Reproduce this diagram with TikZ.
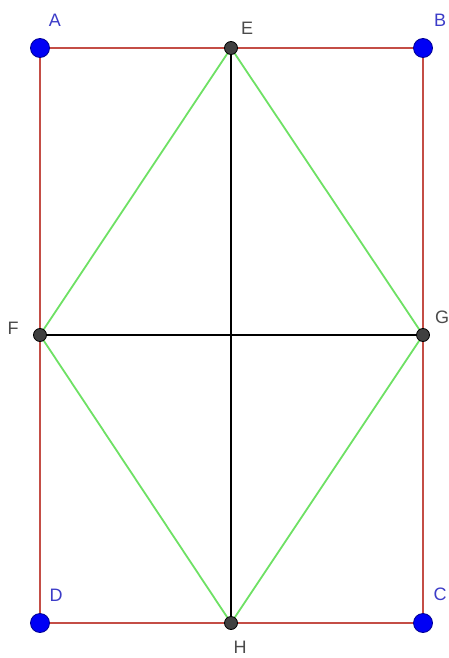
\documentclass[tikz,border=0pt]{standalone}
\usepackage{fontspec}
\setmainfont{Liberation Sans}
\usetikzlibrary{positioning,calc}
\definecolor{edgered}{RGB}{196,78,70}
\definecolor{rhombgreen}{RGB}{110,225,100}
\definecolor{ptblue}{RGB}{0,0,245}
\definecolor{lblblue}{RGB}{60,60,200}
\definecolor{lblgray}{RGB}{75,75,75}

\begin{document}
\begin{tikzpicture}[x=1pt,y=-1pt,
    bigpt/.style={circle, draw=ptblue!60!black, fill=ptblue, line width=0.8pt, minimum size=19pt, inner sep=0pt},
    midpt/.style={circle, draw=black, fill=black!75, line width=0.8pt, minimum size=13pt, inner sep=0pt},
    blbl/.style={text=lblblue, font=\fontsize{18}{18}\selectfont, inner sep=0pt},
    glbl/.style={text=lblgray, font=\fontsize{18}{18}\selectfont, inner sep=0pt}]
    \useasboundingbox[fill=white] (0,0) rectangle (448,658);

    % Corner and mid points
    \coordinate (A) at (40,48);
    \coordinate (B) at (423,48);
    \coordinate (C) at (423,623);
    \coordinate (D) at (40,623);
    \coordinate (E) at (231,48);
    \coordinate (F) at (40,335);
    \coordinate (G) at (423,335);
    \coordinate (H) at (231,623);

    % Rectangle
    \draw[edgered, line width=1.8pt] (A) -- (B) -- (C) -- (D) -- cycle;

    % Rhombus
    \draw[rhombgreen, line width=1.8pt] (E) -- (G) -- (H) -- (F) -- cycle;

    % Diagonals
    \draw[black, line width=1.5pt] (E) -- (H);
    \draw[black, line width=1.5pt] (F) -- (G);

    % Points
    \node[bigpt] (pA) at (A) {};
    \node[bigpt] (pB) at (B) {};
    \node[bigpt] (pC) at (C) {};
    \node[bigpt] (pD) at (D) {};
    \node[midpt] (pE) at (E) {};
    \node[midpt] (pF) at (F) {};
    \node[midpt] (pG) at (G) {};
    \node[midpt] (pH) at (H) {};

    % Labels
    \node[blbl] (lA) at (55,20) {A};
    \node[blbl] (lB) at (440,20) {B};
    \node[blbl] (lC) at (440,594) {C};
    \node[blbl] (lD) at (56,595) {D};
    \node[glbl] (lE) at (247,28) {E};
    \node[glbl] (lF) at (13,328) {F};
    \node[glbl] (lG) at (442,317) {G};
    \node[glbl] (lH) at (240,647) {H};

\end{tikzpicture}
\end{document}
